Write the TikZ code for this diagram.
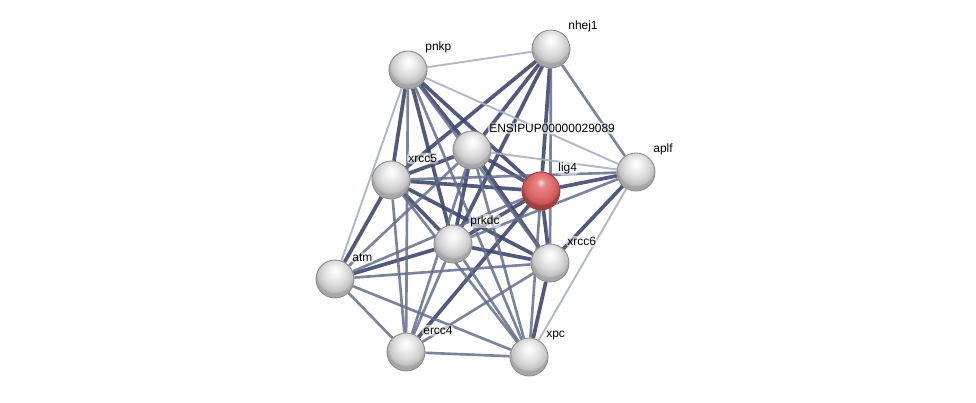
\documentclass[tikz,border=0pt]{standalone}
\usepackage{fontspec}
\setmainfont{Liberation Sans}
\usepackage{xcolor}
\usepackage{tikz}
\usetikzlibrary{backgrounds}
\definecolor{edgeStrong}{RGB}{62, 72, 108}
\definecolor{edgeMid}{RGB}{100, 110, 140}
\definecolor{edgeWeak}{RGB}{170, 175, 195}
\definecolor{ballRim}{RGB}{140, 140, 140}
\definecolor{redBody}{RGB}{225, 105, 105}
\definecolor{redRim}{RGB}{165, 60, 60}
\pgfdeclareradialshading{sphereGrey}{\pgfqpoint{0bp}{12bp}}{color(0bp)=(white);
    color(6bp)=(white!96!black); color(16bp)=(white!86!black); color(23bp)=(white!76!black);
    color(25bp)=(white!65!black); color(50bp)=(white!65!black)}
\pgfdeclareradialshading{sphereRed}{\pgfqpoint{0bp}{12bp}}{color(0bp)=(white!75!redBody);
    color(6bp)=(white!20!redBody); color(16bp)=(redBody); color(23bp)=(redBody!85!black);
    color(25bp)=(redRim); color(50bp)=(redRim)}

\begin{document}
\begin{tikzpicture}[x=0.02cm, y=-0.02cm,
    protein/.style={circle, shading=sphereGrey, draw=ballRim, line width=0.5pt,
        minimum size=0.76cm, inner sep=0pt, label={[lbl]north east:#1}},
    lbl/.style={font=\fontsize{6.8}{8}\selectfont, inner sep=0.8pt, label distance=1.5pt,
        fill=white, fill opacity=0.55, text opacity=1, rounded corners=2pt},
    strong/.style={draw=edgeStrong, opacity=0.9, line width=2.1pt},
    mid/.style={draw=edgeMid, opacity=0.85, line width=1.5pt},
    weak/.style={draw=edgeWeak, opacity=0.9, line width=1.1pt}
]
\useasboundingbox (0,0) rectangle (976,402);

% proteins
\node[protein=pnkp] (pnkp) at (408,70) {};
\node[protein=nhej1] (nhej1) at (551,49) {};
\node[protein=ENSIPUP00000029089] (ensip) at (472,150) {};
\node[protein=aplf] (aplf) at (636,172) {};
\node[protein=xrcc5] (xrcc5) at (391,180) {};
\node[protein=lig4, shading=sphereRed, draw=redRim] (lig4) at (541,191) {};
\node[protein=prkdc] (prkdc) at (453,244) {};
\node[protein=xrcc6] (xrcc6) at (550,263) {};
\node[protein=atm] (atm) at (335,279) {};
\node[protein=ercc4] (ercc4) at (406,352) {};
\node[protein=xpc] (xpc) at (529,357) {};

% interactions
\begin{scope}[on background layer]
\foreach \a/\b in {pnkp/xrcc5, pnkp/prkdc, pnkp/lig4, pnkp/ensip,
    nhej1/xrcc5, nhej1/ensip, nhej1/lig4, nhej1/prkdc,
    ensip/xrcc5, ensip/lig4, ensip/prkdc, ensip/xrcc6,
    xrcc5/lig4, xrcc5/prkdc, xrcc5/xrcc6, xrcc5/atm,
    lig4/aplf, lig4/prkdc, lig4/xrcc6, lig4/ercc4,
    aplf/xrcc6, prkdc/xrcc6, prkdc/atm, xrcc6/xpc}
    \draw[strong] (\a) -- (\b);
\foreach \a/\b in {pnkp/ercc4, pnkp/xrcc6, pnkp/xpc,
    nhej1/xrcc6, nhej1/aplf, ensip/atm, ensip/ercc4, ensip/xpc,
    xrcc5/ercc4, xrcc5/xpc, xrcc5/aplf, lig4/atm, lig4/xpc,
    aplf/prkdc, prkdc/ercc4, prkdc/xpc, xrcc6/atm, xrcc6/ercc4,
    atm/ercc4, atm/xpc, ercc4/xpc}
    \draw[mid] (\a) -- (\b);
\foreach \a/\b in {pnkp/nhej1, pnkp/aplf, pnkp/atm, ensip/aplf, aplf/xpc}
    \draw[weak] (\a) -- (\b);
\end{scope}
\end{tikzpicture}
\end{document}
